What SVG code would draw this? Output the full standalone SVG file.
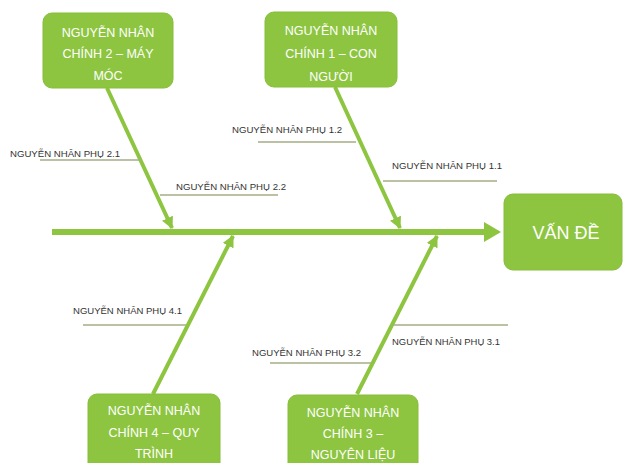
<svg xmlns="http://www.w3.org/2000/svg" width="627" height="463" viewBox="0 0 627 463">
<defs>
<style>
.box{fill:#8dc540;stroke:#86bd3a;stroke-width:1}
.bt{font-family:"Liberation Sans",Arial,sans-serif;font-size:12.5px;fill:#ffffff;text-anchor:middle}
.big{font-family:"Liberation Sans",Arial,sans-serif;font-size:18px;fill:#ffffff;text-anchor:middle}
.bone{stroke:#8dc540;stroke-width:4;fill:none}
.spine{stroke:#8dc540;stroke-width:6;fill:none}
.sub{stroke:#a4ae86;stroke-width:1.5;fill:none}
.st{font-family:"Liberation Sans",Arial,sans-serif;font-size:8.5px;fill:#333333}
</style>
<marker id="ah" viewBox="0 0 10 10" refX="9" refY="5" markerWidth="3" markerHeight="3" orient="auto" markerUnits="strokeWidth">
<path d="M0,0 L10,5 L0,10 z" fill="#8dc540"/>
</marker>
</defs>
<rect width="627" height="463" fill="#ffffff"/>
<g id="connectors">
<line class="spine" x1="52" y1="232" x2="486" y2="232"/>
<path d="M484,222 L501,232 L484,242 z" fill="#8dc540"/>
<line class="bone" x1="107" y1="88" x2="172" y2="228" marker-end="url(#ah)"/>
<line class="bone" x1="335" y1="87" x2="400" y2="228" marker-end="url(#ah)"/>
<line class="bone" x1="153" y1="394" x2="233" y2="236" marker-end="url(#ah)"/>
<line class="bone" x1="357" y1="394" x2="437" y2="236" marker-end="url(#ah)"/>
<line class="sub" x1="40" y1="160" x2="141" y2="160"/>
<line class="sub" x1="160" y1="195" x2="278" y2="195"/>
<line class="sub" x1="258" y1="142" x2="356" y2="142"/>
<line class="sub" x1="383" y1="181" x2="497" y2="181"/>
<line class="sub" x1="83" y1="325" x2="186" y2="325"/>
<line class="sub" x1="270" y1="363" x2="371" y2="363"/>
<line class="sub" x1="393" y1="325" x2="508" y2="325"/>
</g>
<g id="sub-labels">
<text class="st" x="10" y="157" textLength="110" lengthAdjust="spacingAndGlyphs">NGUYỄN NHÂN PHỤ 2.1</text>
<text class="st" x="176" y="190" textLength="110" lengthAdjust="spacingAndGlyphs">NGUYỄN NHÂN PHỤ 2.2</text>
<text class="st" x="232" y="133" textLength="110" lengthAdjust="spacingAndGlyphs">NGUYỄN NHÂN PHỤ 1.2</text>
<text class="st" x="392" y="169" textLength="110" lengthAdjust="spacingAndGlyphs">NGUYỄN NHÂN PHỤ 1.1</text>
<text class="st" x="73" y="314" textLength="109" lengthAdjust="spacingAndGlyphs">NGUYỄN NHÂN PHỤ 4.1</text>
<text class="st" x="252" y="356" textLength="109" lengthAdjust="spacingAndGlyphs">NGUYỄN NHÂN PHỤ 3.2</text>
<text class="st" x="392" y="345" textLength="108" lengthAdjust="spacingAndGlyphs">NGUYỄN NHÂN PHỤ 3.1</text>
</g>
<g id="node-main2">
<rect class="box" x="43" y="13" width="130" height="75" rx="9"/>
<text class="bt" x="108" y="37">NGUYỄN NHÂN</text>
<text class="bt" x="108" y="58">CHÍNH 2 – MÁY</text>
<text class="bt" x="108" y="80">MÓC</text>
</g>
<g id="node-main1">
<rect class="box" x="265" y="12" width="132" height="75" rx="9"/>
<text class="bt" x="331" y="35">NGUYỄN NHÂN</text>
<text class="bt" x="331" y="58">CHÍNH 1 – CON</text>
<text class="bt" x="331" y="81">NGƯỜI</text>
</g>
<g id="node-problem">
<rect class="box" x="504" y="194" width="118" height="76" rx="9"/>
<text class="big" x="566" y="239">VẤN ĐỀ</text>
</g>
<g id="node-main4">
<rect class="box" x="88" y="394" width="132" height="78" rx="9"/>
<text class="bt" x="154" y="415">NGUYỄN NHÂN</text>
<text class="bt" x="154" y="437">CHÍNH 4 – QUY</text>
<text class="bt" x="154" y="458">TRÌNH</text>
</g>
<g id="node-main3">
<rect class="box" x="288" y="395" width="130" height="78" rx="9"/>
<text class="bt" x="353" y="417">NGUYỄN NHÂN</text>
<text class="bt" x="353" y="438">CHÍNH 3 –</text>
<text class="bt" x="353" y="459">NGUYÊN LIỆU</text>
</g>
</svg>
